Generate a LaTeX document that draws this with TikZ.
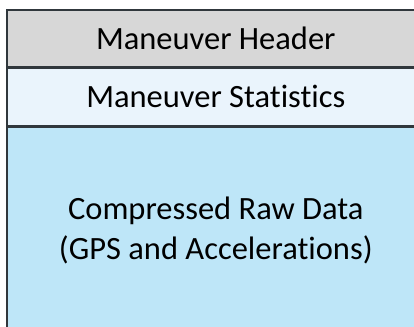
\documentclass[tikz,border=0pt]{standalone}
\usepackage{fontspec}
\setmainfont{Carlito}[Ligatures=NoCommon]
\usepackage{xcolor}
\usepackage{tikz}
\usetikzlibrary{positioning}

\definecolor{headgray}{HTML}{D7D7D7}
\definecolor{statblue}{HTML}{EAF4FC}
\definecolor{rawblue}{HTML}{BEE6F8}
\definecolor{edgedark}{HTML}{30373C}

\tikzset{layer/.style={rectangle, draw=edgedark, line width=1.6pt,
                       minimum width=418pt, inner sep=0pt, align=center,
                       font=\fontsize{32.5}{40}\selectfont}}

\begin{document}
\begin{tikzpicture}[x=1pt,y=-1pt]
\useasboundingbox (0,0) rectangle (414,326);
\clip (0,0) rectangle (414,326);
\node[layer, fill=headgray, minimum height=57pt, anchor=north west] (header) at (6,9) {Maneuver Header};
\node[layer, fill=statblue, minimum height=57pt, below=0pt of header] (stats) {Maneuver Statistics};
\node[layer, fill=rawblue, minimum height=206pt, below=0pt of stats] (raw) {Compressed Raw Data\\(GPS and Accelerations)};
\end{tikzpicture}
\end{document}
